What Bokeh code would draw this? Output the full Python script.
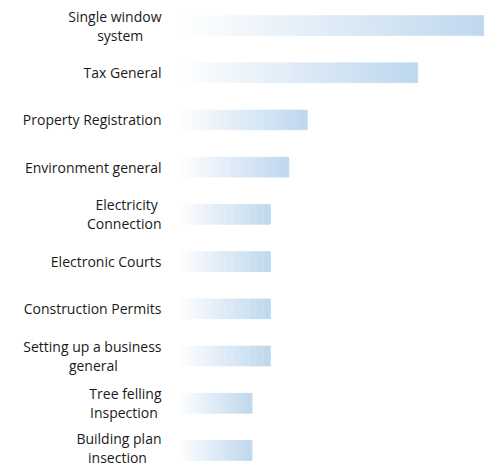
from bokeh.plotting import figure
from bokeh.models import ColumnDataSource, FixedTicker, Range1d
from bokeh.embed import file_html
from bokeh.resources import INLINE

# ---- data ----
categories = ["Single window system", "Tax General", "Property Registration",
              "Environment general", "Electricity Connection", "Electronic Courts",
              "Construction Permits", "Setting up a business general",
              "Tree felling Inspection", "Building plan insection"]
tick_labels = ["Single window\nsystem", "Tax General", "Property Registration",
               "Environment general", "Electricity\nConnection", "Electronic Courts",
               "Construction Permits", "Setting up a business\ngeneral",
               "Tree felling\nInspection", "Building plan\ninsection"]
values = [17, 13, 7, 6, 5, 5, 5, 5, 4, 4]

# visual centring of wrapped label lines (number of trailing no-break spaces per line)
line_pad = {0: (0, 5), 4: (1, 0), 7: (0, 12), 8: (0, 1), 9: (0, 4)}
NBSP = "\u00a0"
shown_labels = {}
for i, lab in enumerate(tick_labels):
    lines = lab.split("\n")
    pads = line_pad.get(i, (0,) * len(lines))
    shown_labels[i] = "\n".join(l + NBSP * n for l, n in zip(lines, pads))

# ---- gradient bars built from slices ----
start_rgb = (255, 255, 255)
end_rgb = (189, 215, 238)
n_slices = 80

ys, lefts, rights, colors = [], [], [], []
for i, v in enumerate(values):
    for s in range(n_slices):
        t = (s + 0.5) / n_slices
        r = round(start_rgb[0] + (end_rgb[0] - start_rgb[0]) * t)
        g = round(start_rgb[1] + (end_rgb[1] - start_rgb[1]) * t)
        b = round(start_rgb[2] + (end_rgb[2] - start_rgb[2]) * t)
        ys.append(i)
        lefts.append(v * s / n_slices)
        rights.append(v * (s + 1) / n_slices)
        colors.append("#%02x%02x%02x" % (r, g, b))

src = ColumnDataSource(dict(y=ys, left=lefts, right=rights, color=colors))

p = figure(width=484, height=466, output_backend="svg", toolbar_location=None,
           x_axis_location=None, y_axis_location="left",
           x_range=Range1d(0, 16.63), y_range=Range1d(9.34, -0.53),
           min_border_left=178, min_border_right=0, min_border_top=0,
           min_border_bottom=0)

p.hbar(y="y", left="left", right="right", height=0.42, source=src,
       fill_color="color", line_color="color", line_width=0.6)

p.yaxis.ticker = FixedTicker(ticks=list(range(len(categories))))
p.yaxis.major_label_overrides = shown_labels
p.yaxis.axis_line_color = None
p.yaxis.major_tick_line_color = None
p.yaxis.minor_tick_line_color = None
p.yaxis.major_tick_in = 0
p.yaxis.major_tick_out = 0
p.yaxis.major_label_standoff = 17
p.yaxis.major_label_text_font = "Open Sans"
p.yaxis.major_label_text_font_size = "14px"
p.yaxis.major_label_text_color = "#1a1a1a"
p.yaxis.major_label_text_line_height = 1.0

p.xgrid.visible = False
p.ygrid.visible = False
p.outline_line_color = None
p.background_fill_color = "white"
p.border_fill_color = "white"

open("out.html", "w").write(file_html(p, INLINE))
